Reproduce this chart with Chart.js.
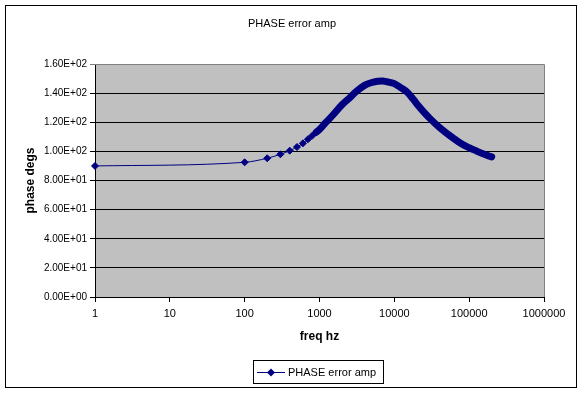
<!DOCTYPE html>
<html><head><meta charset="utf-8">
<script src="https://cdn.jsdelivr.net/npm/chart.js@4/dist/chart.umd.min.js"></script>
<style>html,body{margin:0;padding:0;background:#fff;overflow:hidden}#wrap{position:relative;width:584px;height:394px}</style>
</head><body><div id="wrap"><canvas id="c" width="584" height="394"></canvas></div>
<script>
const chartTitle = 'PHASE error amp';
const seriesName = 'PHASE error amp';
const xAxisTitle = 'freq hz';
const yAxisTitle = 'phase degs';
const freqHz = [1,100,200,300,400,500,600,700,800,900,1000,1200,1500,2000,2500,3000,4000,5000,6000,7000,8000,10000,12000,15000,20000,25000,30000,40000,50000,60000,80000,100000,125000,150000,200000];
const phaseDegs = [90,92.5,95.3,98,100.5,103,105.5,108.3,110.8,113,115,119.5,124.8,132,136.5,140.5,145.3,147.3,148.2,148.3,147.8,146.5,144,140.5,132.6,126.8,122.5,116.5,112.5,109.5,105,102.5,100.3,98.5,96.2];
const xTickValues = [1,10,100,1000,10000,100000,1000000];
const xTickLabels = ['1','10','100','1000','10000','100000','1000000'];
const yTickValues = [0,20,40,60,80,100,120,140,160];
const yTickLabels = ['0.00E+00','2.00E+01','4.00E+01','6.00E+01','8.00E+01','1.00E+02','1.20E+02','1.40E+02','1.60E+02'];

const NAVY = '#000080';
const FONT = 'Liberation Sans, Arial, sans-serif';
const DENSE_FROM = 900;

const decor = {
  id: 'decor',
  beforeDraw(chart) {
    const ctx = chart.ctx, a = chart.chartArea;
    ctx.save();
    ctx.fillStyle = '#fff';
    ctx.fillRect(0, 0, chart.width, chart.height);
    ctx.strokeStyle = '#000'; ctx.lineWidth = 1;
    ctx.strokeRect(5.5, 5.5, 571, 382);
    ctx.fillStyle = '#c0c0c0';
    ctx.fillRect(a.left, a.top, a.right - a.left, a.bottom - a.top);
    ctx.restore();
  },
  afterDraw(chart) {
    const ctx = chart.ctx, a = chart.chartArea;
    ctx.save();
    ctx.strokeStyle = '#808080'; ctx.lineWidth = 1;
    ctx.beginPath();
    ctx.moveTo(a.left, a.top + 0.5); ctx.lineTo(a.right + 0.5, a.top + 0.5);
    ctx.lineTo(a.right + 0.5, a.bottom);
    ctx.stroke();
    ctx.fillStyle = '#000';
    ctx.font = '11px ' + FONT;
    ctx.textAlign = 'center'; ctx.textBaseline = 'middle';
    ctx.fillText(chartTitle, 292, 24);
    const bx = 253.5, by = 360.5, bw = 130, bh = 23;
    ctx.fillStyle = '#fff';
    ctx.fillRect(bx, by, bw, bh);
    ctx.strokeStyle = '#000';
    ctx.strokeRect(bx, by, bw, bh);
    const ly = 372.5;
    ctx.strokeStyle = NAVY; ctx.lineWidth = 1;
    ctx.beginPath(); ctx.moveTo(257, ly); ctx.lineTo(285, ly); ctx.stroke();
    ctx.fillStyle = NAVY;
    ctx.beginPath();
    ctx.moveTo(271 - 4, ly); ctx.lineTo(271, ly - 4); ctx.lineTo(271 + 4, ly); ctx.lineTo(271, ly + 4);
    ctx.closePath(); ctx.fill();
    ctx.fillStyle = '#000';
    ctx.textAlign = 'left';
    ctx.fillText(seriesName, 288, ly);
    ctx.restore();
  }
};

new Chart(document.getElementById('c'), {
  type: 'line',
  data: {
    datasets: [{
      label: seriesName,
      data: freqHz.map((x, i) => ({x: x, y: phaseDegs[i]})),
      borderColor: NAVY,
      backgroundColor: NAVY,
      borderWidth: 1,
      borderJoinStyle: 'round',
      borderCapStyle: 'round',
      pointStyle: 'rectRot',
      pointRadius: c => (c.parsed && c.parsed.x <= DENSE_FROM) ? 3.5 : 0,
      pointBorderWidth: 1,
      pointBorderColor: NAVY,
      pointBackgroundColor: NAVY,
      cubicInterpolationMode: 'monotone',
      clip: false,
      segment: {
        borderWidth: c => c.p0.parsed.x >= DENSE_FROM ? 7 : 1
      }
    }]
  },
  options: {
    responsive: false,
    animation: false,
    devicePixelRatio: 1,
    events: [],
    layout: { padding: { top: 64, right: 40, bottom: 0, left: 0 } },
    plugins: { legend: { display: false }, title: { display: false }, tooltip: { enabled: false } },
    scales: {
      x: {
        type: 'logarithmic',
        position: 'bottom',
        min: 1, max: 1000000,
        afterBuildTicks: s => { s.ticks = xTickValues.map(v => ({value: v})); },
        afterFit: s => { s.height = 97; },
        ticks: {
          autoSkip: false, maxRotation: 0, minRotation: 0,
          callback: (v, i) => xTickLabels[i],
          font: { family: FONT, size: 11 }, color: '#000', padding: 5
        },
        grid: { drawOnChartArea: false, drawTicks: true, tickLength: 5, color: '#000' },
        border: { color: '#000', width: 1 },
        title: { display: true, text: xAxisTitle, color: '#000',
          font: { family: FONT, size: 12, weight: 'bold' }, padding: { top: 0, bottom: 50 } }
      },
      y: {
        min: 0, max: 160,
        afterBuildTicks: s => { s.ticks = yTickValues.map(v => ({value: v})); },
        afterFit: s => { s.width = 95; },
        ticks: {
          callback: (v, i) => yTickLabels[i],
          font: { family: FONT, size: 10 }, color: '#000', padding: 3
        },
        grid: { color: c => (c.tick && c.tick.value === 160) ? '#808080' : '#000', tickLength: 5, lineWidth: 1 },
        border: { color: '#000', width: 1 },
        title: { display: true, text: yAxisTitle, color: '#000',
          font: { family: FONT, size: 12, weight: 'bold' }, padding: { top: 23, bottom: 0 } }
      }
    }
  },
  plugins: [decor]
});
</script>
</body></html>
